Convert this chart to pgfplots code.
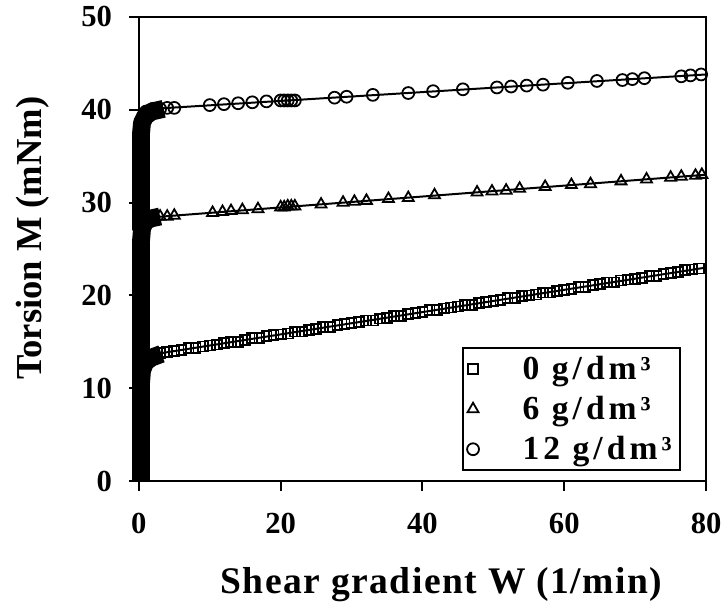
\documentclass[border=0pt]{standalone}
\usepackage{pgfplots}
\pgfplotsset{compat=1.18}
\usepackage{fontspec}
\setmainfont{Liberation Serif}
\begin{document}
\begin{tikzpicture}
\begin{axis}[
  scale only axis, width=286bp, height=234bp,
  xmin=0, xmax=80, ymin=0, ymax=50,
  xtick={0,20,...,80}, ytick={0,10,...,50},
  tick align=outside, xtick pos=bottom, ytick pos=left,
  major tick length=5bp,
  axis line style={line width=1bp},
  every tick/.style={black, line width=1bp},
  /pgf/number format/assume math mode=true,
  ticklabel style={font=\bfseries\fontsize{15.5}{18}\selectfont},
  xticklabel style={yshift=-7.5bp},
  yticklabel style={xshift=-5bp},
  xlabel={Shear gradient W (1/min)},
  ylabel={Torsion M (mNm)},
  xlabel style={font=\bfseries\fontsize{19}{22}\selectfont\addfontfeature{LetterSpace=4},
    at={(rel axis cs:0.5,0)}, anchor=base, xshift=9.5bp, yshift=-56.5bp},
  ylabel style={font=\bfseries\fontsize{18.5}{22}\selectfont,
    at={(rel axis cs:0,0.5)}, anchor=base, xshift=5.5bp, yshift=49bp},
  clip=false,
  legend cell align=left,
  legend style={at={(0.955,0.021)}, anchor=south east, draw=black, line width=1bp,
    font=\bfseries\fontsize{17}{20}\selectfont\addfontfeature{LetterSpace=12},
    inner sep=2bp, row sep=3bp,
    nodes={inner ysep=2bp},
    /tikz/every odd column/.append style={column sep=20bp}},
]
\coordinate (sw) at (rel axis cs:0,0);
\coordinate (ne) at (rel axis cs:1,1);

% 0 g/dm3
\addplot[only marks, mark=square, mark size=2.5bp, mark options={line width=0.9bp}] coordinates {
(2,13.6)(3,13.8)(4,13.9)(5,14.0)(6,14.1)(7,14.3)(8,14.3)(9,14.5)(10,14.6)(11,14.7)
(12,14.9)(13,15.0)(14,15.0)(15,15.2)(16,15.4)(17,15.4)(18,15.6)(19,15.7)(20,15.8)(21,15.9)
(22,16.1)(23,16.1)(24,16.3)(25,16.4)(26,16.6)(27,16.6)(28,16.8)(29,16.9)(30,17.0)(31,17.1)
(32,17.3)(33,17.3)(34,17.5)(35,17.6)(36,17.8)(37,17.8)(38,18.0)(39,18.1)(40,18.2)(41,18.4)
(42,18.4)(43,18.6)(44,18.7)(45,18.8)(46,19.0)(47,19.0)(48,19.2)(49,19.3)(50,19.4)(51,19.5)
(52,19.7)(53,19.7)(54,19.9)(55,20.0)(56,20.1)(57,20.3)(58,20.3)(59,20.5)(60,20.6)(61,20.7)
(62,20.9)(63,20.9)(64,21.1)(65,21.2)(66,21.4)(67,21.4)(68,21.6)(69,21.7)(70,21.8)(71,21.9)
(72,22.1)(73,22.1)(74,22.3)(75,22.4)(76,22.5)(77,22.7)(78,22.8)(79,22.9)
};
\addlegendentry{0 g/dm³}

% 6 g/dm3
\addplot[only marks, mark=triangle, mark size=3.2bp, mark options={line width=0.9bp}] coordinates {
(1,28.4)(2,28.4)(3,28.5)(4,28.5)(5,28.6)(10.4,28.9)(11.8,29.0)(13,29.1)(14.6,29.2)(16.8,29.3)
(20,29.5)(20.5,29.5)(21,29.6)(21.5,29.6)(22,29.6)(25.7,29.8)(28.8,30.0)(30.4,30.1)(32.1,30.2)
(35.2,30.4)(38,30.5)(41.7,30.8)(47.7,31.1)(49.8,31.2)(51.8,31.3)(53.7,31.5)(57.3,31.7)(61,31.9)
(63.7,32.0)(68,32.3)(71.6,32.5)(75,32.7)(76.5,32.8)(78.5,32.9)(79.4,33.0)
};
\addlegendentry{6 g/dm³}

% 12 g/dm3
\addplot[only marks, mark=o, mark size=3bp, mark options={line width=0.9bp}] coordinates {
(1,39.8)(2,40.1)(3,40.1)(4,40.2)(5,40.2)(10,40.5)(12,40.6)(14,40.7)(16,40.8)(18,40.9)
(20,41.0)(20.5,41.0)(21,41.0)(21.5,41.0)(22,41.0)(27.6,41.3)(29.3,41.4)(33,41.6)(38,41.8)
(41.5,42.0)(45.7,42.2)(50.5,42.4)(52.5,42.5)(54.7,42.6)(57,42.7)(60.5,42.9)(64.6,43.1)
(68.2,43.2)(69.6,43.3)(71.3,43.4)(76.5,43.6)(77.8,43.7)(79.3,43.8)
};
\addlegendentry{12 g/dm³}

% start-up of the measurement (dense points near W = 0)
\addplot[forget plot, line width=9bp, line join=round] coordinates {
(0.3,0)(0.3,10.5)(0.45,11.9)(0.9,12.8)(1.8,13.3)(3.2,13.7)};
\addplot[forget plot, line width=9bp, line join=round] coordinates {
(0.3,10)(0.3,25.8)(0.45,27.2)(0.9,28.0)(1.8,28.3)(3,28.5)};
\addplot[forget plot, line width=9bp, line join=round] coordinates {
(0.3,27)(0.3,37.4)(0.45,38.6)(0.9,39.3)(1.8,39.8)(3.5,40.1)};

% fitted lines
\addplot[forget plot, line width=1bp] coordinates {(0,13.4)(80,23.0)};
\addplot[forget plot, line width=1bp] coordinates {(0,28.3)(80,33.0)};
\addplot[forget plot, line width=1bp] coordinates {(0,40.0)(80,43.8)};
\end{axis}
\path ([shift={(-70bp,-62.5bp)}]sw) rectangle ([shift={(8bp,7.5bp)}]ne);
\end{tikzpicture}
\end{document}
